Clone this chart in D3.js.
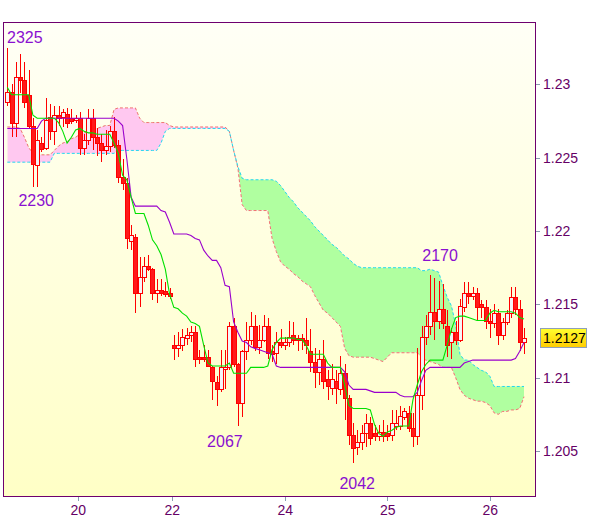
<!DOCTYPE html>
<html><head><meta charset="utf-8">
<script src="https://cdn.jsdelivr.net/npm/d3@7"></script>
<style>body{margin:0;background:#fff;}svg{display:block;}</style>
</head><body>
<svg id="c" width="600" height="519"></svg>
<script>
// ---- data (hourly candles, Ichimoku) ----
const open = [
1.2288,1.2295,1.2274,1.2305,1.2303,1.2293,1.2272,1.2245,1.2260,1.2257,
1.2278,1.2268,1.2279,1.2278,1.2280,1.2277,1.2276,1.2277,1.2257,1.2262,
1.2277,1.2264,1.2260,1.2255,1.2258,1.2268,1.2259,1.2237,1.2233,1.2193,
1.2196,1.2158,1.2169,1.2176,1.2174,1.2158,1.2160,1.2159,1.2158,1.2122,
1.2120,1.2122,1.2127,1.2129,1.2131,1.2114,1.2114,1.2114,1.2107,1.2097,
1.2092,1.2106,1.2107,1.2135,1.2109,1.2083,1.2118,1.2126,1.2135,1.2121,
1.2126,1.2135,1.2118,1.2117,1.2124,1.2122,1.2124,1.2129,1.2127,1.2127,
1.2126,1.2118,1.2111,1.2104,1.2113,1.2099,1.2093,1.2098,1.2092,1.2103,
1.2086,1.2061,1.2053,1.2056,1.2062,1.2069,1.2062,1.2060,1.2063,1.2062,
1.2061,1.2067,1.2067,1.2073,1.2076,1.2066,1.2060,1.2088,1.2128,1.2135,
1.2145,1.2139,1.2147,1.2135,1.2124,1.2131,1.2126,1.2148,1.2158,1.2156,
1.2158,1.2150,1.2148,1.2139,1.2137,1.2144,1.2129,1.2138,1.2144,1.2155,
1.2147,1.2124];
const high = [
1.2325,1.2300,1.2315,1.2321,1.2315,1.2310,1.2277,1.2269,1.2264,1.2291,
1.2287,1.2285,1.2285,1.2283,1.2284,1.2283,1.2279,1.2281,1.2266,1.2283,
1.2283,1.2270,1.2266,1.2269,1.2272,1.2278,1.2262,1.2249,1.2236,1.2204,
1.2198,1.2182,1.2182,1.2184,1.2175,1.2167,1.2167,1.2165,1.2161,1.2129,
1.2131,1.2133,1.2134,1.2135,1.2135,1.2119,1.2122,1.2119,1.2108,1.2101,
1.2119,1.2119,1.2138,1.2141,1.2110,1.2119,1.2138,1.2145,1.2143,1.2136,
1.2143,1.2141,1.2122,1.2131,1.2133,1.2128,1.2139,1.2138,1.2129,1.2130,
1.2141,1.2133,1.2120,1.2119,1.2126,1.2105,1.2109,1.2105,1.2115,1.2109,
1.2088,1.2069,1.2064,1.2068,1.2075,1.2073,1.2068,1.2068,1.2071,1.2068,
1.2078,1.2078,1.2081,1.2079,1.2081,1.2076,1.2120,1.2135,1.2143,1.2170,
1.2168,1.2166,1.2164,1.2146,1.2134,1.2139,1.2154,1.2165,1.2165,1.2162,
1.2161,1.2153,1.2153,1.2147,1.2150,1.2147,1.2141,1.2146,1.2162,1.2162,
1.2153,1.2134];
const low = [
1.2285,1.2264,1.2264,1.2294,1.2284,1.2270,1.2230,1.2230,1.2254,1.2255,
1.2262,1.2259,1.2272,1.2271,1.2270,1.2273,1.2274,1.2252,1.2252,1.2259,
1.2255,1.2251,1.2247,1.2252,1.2254,1.2257,1.2233,1.2228,1.2188,1.2187,
1.2144,1.2148,1.2165,1.2173,1.2153,1.2151,1.2156,1.2155,1.2154,1.2112,
1.2114,1.2118,1.2122,1.2124,1.2107,1.2109,1.2111,1.2107,1.2085,1.2081,
1.2090,1.2092,1.2105,1.2107,1.2067,1.2073,1.2112,1.2122,1.2118,1.2116,
1.2124,1.2113,1.2111,1.2109,1.2120,1.2119,1.2121,1.2122,1.2118,1.2119,
1.2116,1.2104,1.2093,1.2095,1.2092,1.2085,1.2088,1.2082,1.2088,1.2071,
1.2054,1.2042,1.2047,1.2051,1.2053,1.2054,1.2057,1.2057,1.2056,1.2057,
1.2057,1.2064,1.2064,1.2071,1.2063,1.2053,1.2054,1.2078,1.2122,1.2129,
1.2126,1.2133,1.2133,1.2114,1.2113,1.2122,1.2124,1.2145,1.2150,1.2153,
1.2139,1.2141,1.2133,1.2127,1.2134,1.2122,1.2126,1.2136,1.2141,1.2143,
1.2118,1.2116];
const close = [
1.2295,1.2274,1.2305,1.2303,1.2288,1.2272,1.2246,1.2262,1.2256,1.2276,
1.2268,1.2279,1.2277,1.2281,1.2274,1.2275,1.2277,1.2257,1.2262,1.2277,
1.2264,1.2260,1.2255,1.2258,1.2268,1.2259,1.2237,1.2233,1.2195,1.2197,
1.2158,1.2169,1.2176,1.2174,1.2158,1.2160,1.2158,1.2157,1.2156,1.2120,
1.2122,1.2128,1.2129,1.2131,1.2113,1.2113,1.2113,1.2108,1.2098,1.2092,
1.2107,1.2107,1.2135,1.2109,1.2083,1.2118,1.2126,1.2135,1.2121,1.2126,
1.2135,1.2117,1.2116,1.2124,1.2122,1.2124,1.2128,1.2126,1.2126,1.2126,
1.2122,1.2111,1.2104,1.2113,1.2098,1.2094,1.2099,1.2093,1.2103,1.2086,
1.2061,1.2052,1.2056,1.2062,1.2069,1.2059,1.2060,1.2063,1.2060,1.2060,
1.2069,1.2069,1.2074,1.2077,1.2066,1.2060,1.2088,1.2128,1.2135,1.2145,
1.2139,1.2147,1.2137,1.2122,1.2131,1.2126,1.2149,1.2158,1.2156,1.2158,
1.2148,1.2148,1.2139,1.2137,1.2144,1.2129,1.2138,1.2144,1.2155,1.2147,
1.2124,1.2127];
const tenkan = [
1.2298,1.2293,1.2293,1.2293,1.2293,1.2293,1.2279,1.2277,1.2277,1.2277,
1.2277,1.2277,1.2274,1.2268,1.2260,1.2264,1.2269,1.2270,1.2268,1.2267,
1.2267,1.2266,1.2266,1.2266,1.2266,1.2260,1.2253,1.2238,1.2235,1.2223,
1.2212,1.2212,1.2212,1.2204,1.2194,1.2190,1.2184,1.2174,1.2157,1.2148,
1.2147,1.2144,1.2142,1.2138,1.2137,1.2135,1.2122,1.2110,1.2108,1.2108,
1.2108,1.2108,1.2110,1.2103,1.2103,1.2103,1.2103,1.2107,1.2107,1.2107,
1.2107,1.2108,1.2119,1.2124,1.2127,1.2127,1.2127,1.2127,1.2126,1.2126,
1.2122,1.2116,1.2116,1.2116,1.2116,1.2110,1.2107,1.2107,1.2107,1.2095,
1.2081,1.2079,1.2079,1.2079,1.2079,1.2078,1.2068,1.2062,1.2060,1.2063,
1.2064,1.2066,1.2067,1.2067,1.2067,1.2085,1.2095,1.2104,1.2109,1.2112,
1.2112,1.2112,1.2112,1.2122,1.2133,1.2141,1.2142,1.2142,1.2141,1.2140,
1.2139,1.2139,1.2139,1.2144,1.2146,1.2145,1.2145,1.2145,1.2145,1.2144,
1.2141,1.2140];
const kijun = [
1.2270,1.2270,1.2270,1.2270,1.2270,1.2270,1.2270,1.2270,1.2275,1.2277,
1.2277,1.2277,1.2277,1.2277,1.2277,1.2277,1.2277,1.2277,1.2277,1.2277,
1.2277,1.2277,1.2277,1.2277,1.2277,1.2277,1.2275,1.2272,1.2249,1.2223,
1.2217,1.2217,1.2217,1.2217,1.2217,1.2217,1.2214,1.2213,1.2206,1.2198,
1.2198,1.2198,1.2198,1.2197,1.2195,1.2194,1.2187,1.2183,1.2180,1.2180,
1.2175,1.2163,1.2162,1.2138,1.2131,1.2125,1.2124,1.2121,1.2120,1.2119,
1.2118,1.2117,1.2116,1.2108,1.2107,1.2107,1.2107,1.2107,1.2107,1.2107,
1.2107,1.2107,1.2107,1.2107,1.2107,1.2107,1.2107,1.2107,1.2107,1.2104,
1.2095,1.2092,1.2092,1.2092,1.2092,1.2091,1.2090,1.2090,1.2090,1.2090,
1.2090,1.2090,1.2088,1.2087,1.2087,1.2087,1.2090,1.2098,1.2105,1.2107,
1.2107,1.2107,1.2107,1.2107,1.2107,1.2107,1.2107,1.2110,1.2111,1.2112,
1.2112,1.2112,1.2112,1.2112,1.2112,1.2112,1.2112,1.2112,1.2112,1.2113,
1.2118,1.2124];
const spanA = [
1.2247,1.2247,1.2247,1.2247,1.2247,1.2247,1.2247,1.2247,1.2247,1.2247,
1.2247,1.2253,1.2253,1.2253,1.2253,1.2253,1.2253,1.2253,1.2253,1.2253,
1.2253,1.2253,1.2253,1.2253,1.2253,1.2253,1.2255,1.2255,1.2255,1.2255,
1.2255,1.2255,1.2255,1.2255,1.2255,1.2255,1.2260,1.2268,1.2270,1.2270,
1.2270,1.2270,1.2270,1.2270,1.2270,1.2270,1.2270,1.2270,1.2270,1.2270,
1.2270,1.2270,1.2268,1.2255,1.2244,1.2236,1.2235,1.2235,1.2235,1.2235,
1.2235,1.2235,1.2235,1.2234,1.2231,1.2227,1.2223,1.2220,1.2216,1.2213,
1.2210,1.2207,1.2203,1.2200,1.2197,1.2194,1.2191,1.2189,1.2186,1.2183,
1.2181,1.2178,1.2176,1.2175,1.2175,1.2175,1.2175,1.2175,1.2175,1.2175,
1.2175,1.2175,1.2175,1.2175,1.2175,1.2175,1.2175,1.2173,1.2173,1.2174,
1.2173,1.2172,1.2163,1.2155,1.2149,1.2136,1.2116,1.2112,1.2112,1.2109,
1.2107,1.2105,1.2104,1.2101,1.2094,1.2094,1.2094,1.2094,1.2094,1.2094,
1.2094,1.2094];
const spanB = [
1.2271,1.2271,1.2271,1.2270,1.2264,1.2257,1.2253,1.2252,1.2252,1.2252,
1.2252,1.2255,1.2258,1.2260,1.2261,1.2263,1.2264,1.2266,1.2267,1.2268,
1.2270,1.2270,1.2271,1.2272,1.2272,1.2283,1.2284,1.2284,1.2284,1.2284,
1.2284,1.2277,1.2274,1.2274,1.2274,1.2274,1.2274,1.2274,1.2272,1.2271,
1.2271,1.2271,1.2271,1.2271,1.2271,1.2271,1.2271,1.2271,1.2271,1.2271,
1.2271,1.2271,1.2268,1.2255,1.2243,1.2218,1.2214,1.2214,1.2214,1.2214,
1.2214,1.2214,1.2195,1.2186,1.2179,1.2176,1.2174,1.2171,1.2169,1.2166,
1.2164,1.2162,1.2156,1.2151,1.2146,1.2144,1.2141,1.2138,1.2135,1.2120,
1.2115,1.2114,1.2114,1.2114,1.2114,1.2114,1.2113,1.2112,1.2111,1.2114,
1.2117,1.2117,1.2117,1.2117,1.2117,1.2117,1.2117,1.2114,1.2112,1.2111,
1.2110,1.2109,1.2107,1.2107,1.2107,1.2100,1.2092,1.2088,1.2086,1.2085,
1.2084,1.2084,1.2083,1.2081,1.2076,1.2075,1.2077,1.2077,1.2078,1.2078,
1.2079,1.2087];
const yTicks = [1.205, 1.21, 1.215, 1.22, 1.225, 1.23];
const xTickIdx = [16.5, 38.5, 65, 89, 113];
const xTickLabels = ["20", "22", "24", "25", "26"];
const annText  = ["2325", "2230", "2067", "2042", "2170"];
const annIdx   = [0, 7, 54, 81, 99];
const annPrice = [1.2325, 1.2230, 1.2067, 1.2042, 1.2170];

// ---- layout ----
const N = close.length;
const P = {l: 3, t: 22, r: 535, b: 496};
const annStyle = [
  {dx: -0.3, dy: -5, anchor: "start"},
  {dx: -1, dy: 19, anchor: "middle"},
  {dx: -13, dy: 21, anchor: "middle"},
  {dx: 4, dy: 26, anchor: "middle"},
  {dx: 10, dy: -14, anchor: "middle"}
];
const FONT = "'Liberation Sans', Arial, sans-serif";

const x = d3.scaleLinear().domain([0, N - 1]).range([7.3, 524]);
const y = d3.scaleLinear().domain([1.20193, 1.23426]).range([P.b, P.t]);

const svg = d3.select("#c");
const defs = svg.append("defs");
const bg = defs.append("linearGradient").attr("id", "bg").attr("x1", 0).attr("y1", 0).attr("x2", 0).attr("y2", 1);
bg.append("stop").attr("offset", "0%").attr("stop-color", "#fffff6");
bg.append("stop").attr("offset", "100%").attr("stop-color", "#ffffc6");
const lab = defs.append("linearGradient").attr("id", "lab").attr("x1", 0).attr("y1", 0).attr("x2", 0).attr("y2", 1);
lab.append("stop").attr("offset", "0%").attr("stop-color", "#ffff30");
lab.append("stop").attr("offset", "100%").attr("stop-color", "#ffcc00");
defs.append("clipPath").attr("id", "plotclip").append("rect")
  .attr("x", P.l).attr("y", P.t).attr("width", P.r - P.l).attr("height", P.b - P.t);

const idx = d3.range(N);
defs.append("clipPath").attr("id", "aboveB").append("path")
  .attr("d", d3.area().x(i => x(i)).y0(P.t - 20).y1(i => y(spanB[i]))(idx));
defs.append("clipPath").attr("id", "belowB").append("path")
  .attr("d", d3.area().x(i => x(i)).y0(i => y(spanB[i])).y1(P.b + 20)(idx));

// background
svg.append("rect").attr("x", P.l).attr("y", P.t).attr("width", P.r - P.l).attr("height", P.b - P.t)
  .attr("fill", "url(#bg)");

const g = svg.append("g").attr("clip-path", "url(#plotclip)");

// cloud
const cloud = d3.area().x(i => x(i)).y0(i => y(spanA[i])).y1(i => y(spanB[i]));
g.append("g").attr("clip-path", "url(#aboveB)").append("path")
  .attr("d", cloud(idx)).attr("fill", "#b0ffa0");
g.append("g").attr("clip-path", "url(#belowB)").append("path")
  .attr("d", cloud(idx)).attr("fill", "#ffc8f0");

const line = arr => d3.line().x(i => x(i)).y(i => y(arr[i]))(idx);
g.append("path").attr("d", line(spanB)).attr("fill", "none")
  .attr("stroke", "#f07070").attr("stroke-width", 1).attr("stroke-dasharray", "3,2");
g.append("path").attr("d", line(spanA)).attr("fill", "none")
  .attr("stroke", "#20d8f0").attr("stroke-width", 1).attr("stroke-dasharray", "3,2");

// candles
const cg = g.append("g").attr("shape-rendering", "crispEdges");
idx.forEach(i => {
  const c = Math.round(x(i));
  const up = close[i] >= open[i];
  cg.append("line").attr("x1", c + 0.5).attr("x2", c + 0.5)
    .attr("y1", Math.round(y(high[i]))).attr("y2", Math.round(y(low[i])))
    .attr("stroke", "#ff0000").attr("stroke-width", 1);
  const top = Math.round(y(Math.max(open[i], close[i])));
  const bot = Math.round(y(Math.min(open[i], close[i])));
  cg.append("rect").attr("x", c - 1.5).attr("y", top + 0.5)
    .attr("width", 4).attr("height", Math.max(1, bot - top))
    .attr("fill", up ? "#f4f4f8" : "#ff1a1a").attr("stroke", "#ff0000").attr("stroke-width", 1);
});

// tenkan / kijun
g.append("path").attr("d", line(kijun)).attr("fill", "none").attr("stroke", "#9a00cc").attr("stroke-width", 1.1);
g.append("path").attr("d", line(tenkan)).attr("fill", "none").attr("stroke", "#00e000").attr("stroke-width", 1.1);

// border
svg.append("rect").attr("x", P.l + 0.5).attr("y", P.t + 0.5).attr("width", P.r - P.l).attr("height", P.b - P.t)
  .attr("fill", "none").attr("stroke", "#6e006e").attr("stroke-width", 1).attr("shape-rendering", "crispEdges");

// axes
const yAxis = d3.axisRight(y).tickValues(yTicks).tickSize(4).tickPadding(3).tickFormat(d3.format(".3~f"));
const ya = svg.append("g").attr("transform", `translate(${P.r + 1},0)`).call(yAxis);
const xAxis = d3.axisBottom(x).tickValues(xTickIdx).tickSize(4).tickPadding(4).tickFormat((d, i) => xTickLabels[i]);
const xa = svg.append("g").attr("transform", `translate(0,${P.b + 1})`).call(xAxis);
[ya, xa].forEach(a => {
  a.select(".domain").remove();
  a.selectAll(".tick line").attr("stroke", "#8a9cb0").attr("shape-rendering", "crispEdges");
  a.selectAll(".tick text").attr("fill", "#660066").style("font-family", FONT).style("font-size", "14px");
});

// annotations
annText.forEach((t, k) => {
  const s = annStyle[k];
  svg.append("text").attr("x", x(annIdx[k]) + s.dx).attr("y", y(annPrice[k]) + s.dy)
    .attr("text-anchor", s.anchor).attr("fill", "#8a10d0")
    .style("font-family", FONT).style("font-size", "16px").text(t);
});

// last price label
const last = close[N - 1];
const ly = y(last);
svg.append("rect").attr("x", 540.5).attr("y", Math.round(ly) - 9.5).attr("width", 46).attr("height", 19)
  .attr("fill", "url(#lab)").attr("stroke", "#8fa0b8").attr("stroke-width", 1);
svg.append("text").attr("x", 543).attr("y", ly).attr("dy", "0.36em").attr("fill", "#000")
  .style("font-family", FONT).style("font-size", "14px").text(d3.format(".4f")(last));
</script>
</body></html>
